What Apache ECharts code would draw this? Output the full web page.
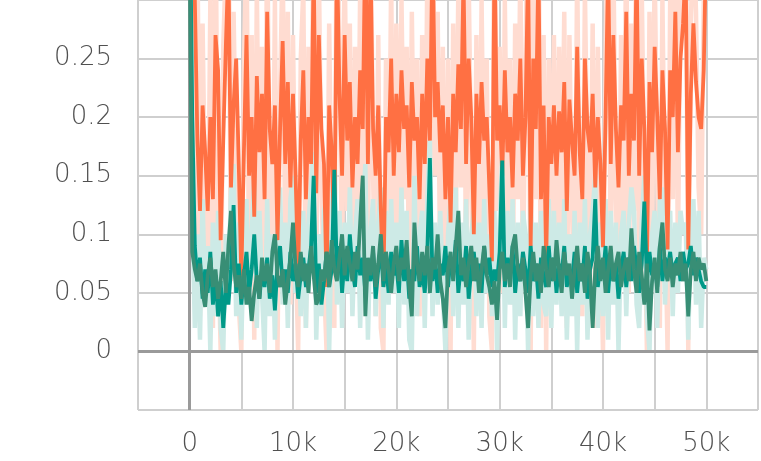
<!DOCTYPE html>
<html>
<head>
<meta charset="utf-8">
<script src="https://cdn.jsdelivr.net/npm/echarts@6/dist/echarts.min.js"></script>
<style>
html,body{margin:0;padding:0;background:#fff;}
#c{width:761px;height:461px;}
</style>
</head>
<body>
<div id="c"></div>
<script>
// step of the first point and spacing between logged steps
const stepStart = 0;
const stepSize = 250;

// smoothed orange run
const orangeSmooth = [
0.42,0.36,0.3,0.18,0.12,0.21,0.17,0.12,0.2,0.13,
0.27,0.24,0.095,0.18,0.26,0.33,0.14,0.21,0.25,0.16,
0.063,0.17,0.27,0.15,0.2,0.115,0.235,0.17,0.22,0.13,
0.29,0.19,0.16,0.21,0.095,0.19,0.265,0.16,0.23,0.14,
0.22,0.15,0.065,0.18,0.24,0.13,0.2,0.16,0.33,0.135,
0.27,0.19,0.16,0.055,0.21,0.17,0.09,0.34,0.22,0.15,
0.27,0.18,0.23,0.14,0.2,0.16,0.24,0.19,0.36,0.16,
0.33,0.19,0.15,0.21,0.12,0.055,0.2,0.17,0.25,0.15,
0.22,0.17,0.24,0.19,0.21,0.14,0.23,0.18,0.2,0.13,
0.22,0.16,0.25,0.18,0.35,0.2,0.23,0.17,0.21,0.13,
0.2,0.11,0.22,0.17,0.245,0.19,0.32,0.16,0.25,0.2,
0.1,0.22,0.16,0.23,0.18,0.2,0.14,0.077,0.34,0.18,
0.21,0.15,0.24,0.17,0.2,0.14,0.22,0.18,0.25,0.15,
0.2,0.33,0.09,0.25,0.19,0.33,0.13,0.21,0.077,0.2,
0.16,0.21,0.15,0.205,0.17,0.23,0.12,0.215,0.18,0.15,
0.26,0.17,0.13,0.25,0.19,0.17,0.22,0.14,0.2,0.16,
0.089,0.2,0.33,0.16,0.27,0.19,0.14,0.21,0.18,0.29,
0.15,0.22,0.18,0.33,0.15,0.25,0.19,0.075,0.23,0.17,
0.26,0.2,0.13,0.24,0.19,0.087,0.24,0.2,0.29,0.17,
0.25,0.28,0.33,0.087,0.22,0.28,0.23,0.2,0.19,0.24,
0.36
];

// raw orange run (faded)
const orangeRaw = [
0.5,0.32,0.08,0.36,0.03,0.28,0.12,0.05,0.3,0.02,
0.38,0.1,0.0,0.26,0.33,0.4,0.06,0.29,0.15,0.04,
0.0,0.24,0.35,0.07,0.27,0.01,0.31,0.1,0.26,0.03,
0.37,0.12,0.05,0.3,0.0,0.22,0.34,0.08,0.29,0.04,
0.27,0.09,0.0,0.25,0.31,0.02,0.26,0.11,0.4,0.05,
0.33,0.14,0.06,0.0,0.28,0.1,0.02,0.42,0.25,0.07,
0.34,0.12,0.28,0.04,0.26,0.09,0.31,0.13,0.44,0.06,
0.4,0.15,0.03,0.27,0.02,0.0,0.25,0.08,0.32,0.05,
0.28,0.1,0.3,0.13,0.26,0.04,0.29,0.11,0.25,0.03,
0.27,0.07,0.33,0.12,0.43,0.15,0.29,0.06,0.26,0.02,
0.25,0.0,0.28,0.1,0.31,0.14,0.4,0.05,0.32,0.15,
0.0,0.27,0.06,0.3,0.1,0.25,0.03,0.0,0.42,0.12,
0.26,0.05,0.3,0.11,0.25,0.04,0.28,0.13,0.33,0.06,
0.24,0.41,0.0,0.31,0.13,0.41,0.02,0.27,0.0,0.25,
0.08,0.27,0.05,0.26,0.1,0.29,0.02,0.27,0.12,0.04,
0.33,0.09,0.03,0.31,0.14,0.07,0.28,0.02,0.26,0.1,
0.0,0.25,0.4,0.06,0.34,0.13,0.03,0.27,0.1,0.36,
0.05,0.28,0.12,0.41,0.04,0.31,0.14,0.0,0.29,0.09,
0.33,0.15,0.02,0.3,0.12,0.0,0.3,0.13,0.37,0.08,
0.31,0.35,0.42,0.0,0.28,0.36,0.29,0.14,0.1,0.3,
0.43
];

// smoothed dark green run
const greenSmooth = [
0.35,0.085,0.07,0.06,0.075,0.05,0.038,0.065,0.08,0.055,
0.07,0.045,0.06,0.085,0.05,0.09,0.12,0.075,0.055,0.065,
0.045,0.07,0.04,0.055,0.026,0.05,0.065,0.045,0.08,0.06,
0.075,0.05,0.085,0.1,0.065,0.055,0.07,0.04,0.06,0.08,
0.11,0.07,0.055,0.085,0.06,0.075,0.05,0.09,0.065,0.04,
0.045,0.07,0.06,0.085,0.055,0.095,0.07,0.06,0.08,0.1,
0.065,0.09,0.075,0.06,0.085,0.07,0.11,0.15,0.03,0.08,
0.065,0.09,0.055,0.075,0.1,0.06,0.085,0.07,0.05,0.075,
0.09,0.06,0.08,0.07,0.095,0.055,0.03,0.11,0.075,0.06,
0.085,0.065,0.09,0.05,0.08,0.07,0.1,0.06,0.045,0.02,
0.07,0.085,0.06,0.09,0.12,0.065,0.08,0.055,0.075,0.09,
0.06,0.08,0.05,0.07,0.09,0.065,0.055,0.04,0.06,0.027,
0.07,0.085,0.06,0.075,0.055,0.09,0.1,0.07,0.06,0.08,
0.05,0.02,0.065,0.085,0.06,0.075,0.05,0.09,0.07,0.055,
0.08,0.06,0.095,0.07,0.05,0.085,0.065,0.075,0.045,0.07,
0.09,0.06,0.075,0.05,0.085,0.065,0.02,0.07,0.09,0.06,
0.08,0.05,0.07,0.09,0.06,0.075,0.085,0.055,0.07,0.08,
0.06,0.105,0.07,0.05,0.085,0.065,0.04,0.075,0.018,0.06,
0.08,0.05,0.09,0.11,0.07,0.06,0.08,0.055,0.075,0.065,
0.085,0.06,0.075,0.03,0.07,0.085,0.06,0.08,0.07,0.075,
0.06
];

// smoothed teal run
const tealSmooth = [
0.4,0.2,0.09,0.06,0.08,0.045,0.07,0.05,0.085,0.04,
0.065,0.03,0.06,0.02,0.055,0.04,0.07,0.125,0.05,0.075,
0.04,0.065,0.085,0.05,0.07,0.1,0.06,0.045,0.07,0.055,
0.08,0.045,0.065,0.035,0.075,0.09,0.055,0.07,0.05,0.085,
0.06,0.075,0.045,0.065,0.08,0.055,0.07,0.09,0.15,0.05,
0.075,0.04,0.06,0.085,0.055,0.07,0.155,0.065,0.09,0.05,
0.08,0.06,0.1,0.07,0.055,0.09,0.065,0.08,0.05,0.075,
0.06,0.085,0.045,0.07,0.09,0.055,0.075,0.05,0.085,0.065,
0.075,0.05,0.095,0.06,0.08,0.045,0.07,0.06,0.09,0.055,
0.07,0.05,0.085,0.165,0.06,0.08,0.05,0.075,0.065,0.09,
0.055,0.08,0.065,0.095,0.05,0.075,0.06,0.09,0.045,0.07,
0.085,0.06,0.075,0.05,0.09,0.065,0.08,0.055,0.07,0.06,
0.085,0.163,0.055,0.08,0.065,0.09,0.05,0.075,0.06,0.085,
0.07,0.05,0.09,0.06,0.075,0.045,0.08,0.065,0.055,0.09,
0.06,0.08,0.05,0.075,0.065,0.09,0.055,0.07,0.06,0.085,
0.05,0.075,0.06,0.09,0.045,0.07,0.08,0.13,0.055,0.075,
0.065,0.09,0.05,0.08,0.06,0.075,0.045,0.07,0.085,0.055,
0.08,0.06,0.09,0.07,0.05,0.075,0.128,0.06,0.085,0.065,
0.075,0.055,0.09,0.06,0.08,0.07,0.085,0.065,0.075,0.08,
0.06,0.085,0.07,0.075,0.09,0.065,0.08,0.07,0.06,0.055,
0.055
];

// raw teal run (faded)
const tealRaw = [
0.45,0.12,0.02,0.1,0.01,0.13,0.04,0.09,0.0,0.11,
0.03,0.12,0.02,0.0,0.1,0.05,0.14,0.16,0.03,0.11,
0.01,0.09,0.13,0.04,0.1,0.15,0.02,0.12,0.05,0.0,
0.13,0.03,0.1,0.01,0.12,0.14,0.04,0.11,0.02,0.13,
0.15,0.05,0.1,0.03,0.12,0.02,0.11,0.14,0.17,0.01,
0.1,0.03,0.12,0.13,0.0,0.11,0.18,0.04,0.12,0.02,
0.11,0.05,0.14,0.03,0.1,0.13,0.02,0.12,0.16,0.01,
0.1,0.13,0.03,0.11,0.14,0.02,0.12,0.04,0.13,0.05,
0.11,0.02,0.14,0.04,0.12,0.01,0.0,0.15,0.03,0.1,
0.12,0.02,0.13,0.18,0.03,0.11,0.04,0.12,0.05,0.0,
0.1,0.13,0.03,0.14,0.02,0.11,0.04,0.13,0.01,0.1,
0.12,0.03,0.11,0.02,0.13,0.05,0.1,0.03,0.12,0.0,
0.11,0.17,0.02,0.12,0.04,0.13,0.01,0.11,0.03,0.12,
0.1,0.0,0.13,0.03,0.11,0.02,0.12,0.04,0.03,0.13,
0.02,0.12,0.04,0.11,0.03,0.13,0.01,0.1,0.03,0.12,
0.0,0.11,0.04,0.13,0.01,0.1,0.12,0.15,0.02,0.11,
0.03,0.13,0.01,0.12,0.04,0.11,0.0,0.1,0.12,0.03,
0.11,0.14,0.12,0.04,0.02,0.11,0.15,0.03,0.0,0.1,
0.12,0.02,0.13,0.14,0.04,0.1,0.12,0.03,0.11,0.05,
0.12,0.1,0.11,0.01,0.1,0.13,0.04,0.12,0.02,0.08,
0.07
];

// axis tick labels
const xTickLabels = {0:'0',10000:'10k',20000:'20k',30000:'30k',40000:'40k',50000:'50k'};
const yTickLabels = {'0':'0','0.05':'0.05','0.1':'0.1','0.15':'0.15','0.2':'0.2','0.25':'0.25'};

function pairs(arr){ return arr.map((v,i)=>[stepStart + i*stepSize, v]); }

const gridColor = '#cfcfcf';
const labelStyle = {color:'#505050', fontFamily:'DejaVu Sans', fontWeight:200, fontSize:26};

function lineSeries(name, arr, color, width, z){
  return {
    name, type:'line', data:pairs(arr), showSymbol:false, symbol:'none',
    clip:true, z,
    lineStyle:{color, width, join:'bevel', cap:'butt'},
    emphasis:{disabled:true}, silent:true
  };
}

const chart = echarts.init(document.getElementById('c'), null, {renderer:'canvas'});
const s0 = lineSeries('orange raw', orangeRaw, '#ffdcd1', 4.5, 1);
s0.markLine = {
  silent:true, symbol:'none', animation:false,
  label:{show:false},
  lineStyle:{color:'#9a9a9a', width:3, type:'solid'},
  data:[{yAxis:0},{xAxis:0}]
};
chart.setOption({
  animation:false,
  backgroundColor:'#ffffff',
  grid:{left:138, right:0, top:0, bottom:51, containLabel:false},
  xAxis:{
    type:'value', min:-5000, max:55000, interval:5000,
    axisLine:{show:false},
    axisTick:{show:true, length:11, lineStyle:{color:gridColor, width:2}},
    splitLine:{show:true, lineStyle:{color:gridColor, width:2}},
    axisLabel:Object.assign({margin:21, formatter:v=>xTickLabels[v]||''}, labelStyle)
  },
  yAxis:{
    type:'value', min:-0.05, max:0.3, interval:0.05,
    axisLine:{show:false},
    axisTick:{show:true, length:11, lineStyle:{color:gridColor, width:2}},
    splitLine:{show:true, lineStyle:{color:gridColor, width:2}},
    axisLabel:Object.assign({margin:26, formatter:v=>{const k=String(Math.round(v*100)/100); return yTickLabels[k]||'';}}, labelStyle)
  },
  series:[
    s0,
    lineSeries('teal raw', tealRaw, '#cdeae6', 4.5, 2),
    lineSeries('orange', orangeSmooth, '#ff7043', 3.8, 3),
    lineSeries('teal', tealSmooth, '#009988', 3.8, 4),
    lineSeries('green', greenSmooth, '#388e75', 3.8, 5)
  ]
});
</script>
</body>
</html>
